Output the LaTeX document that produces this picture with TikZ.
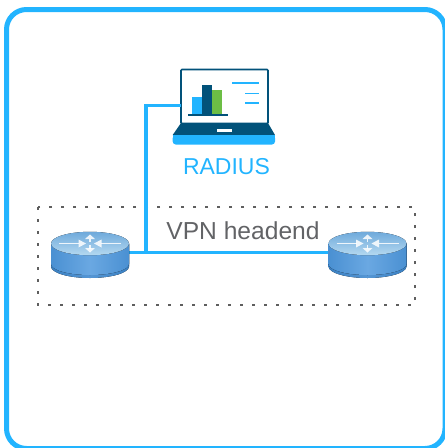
\documentclass[tikz,border=0pt]{standalone}
\usepackage{fontspec}
\setmainfont{Liberation Sans}
\definecolor{ciscoblue}{HTML}{22B4FF}
\definecolor{navy}{HTML}{02527A}
\definecolor{leaf}{HTML}{6CBE45}
\definecolor{labelgray}{HTML}{626366}
\definecolor{dotgray}{HTML}{5E5E5E}
\definecolor{rimA}{HTML}{3A80C2}
\definecolor{rimB}{HTML}{5596D4}
\definecolor{bodyA}{HTML}{4A90D2}
\definecolor{bodyB}{HTML}{6AA8E2}
\definecolor{topA}{HTML}{6FAADB}
\definecolor{topB}{HTML}{B4D8F0}
\tikzset{
  frameline/.style={draw=ciscoblue,line width=5pt,rounded corners=20pt},
  linkline/.style={draw=ciscoblue,line width=3.6pt},
  dotbox/.style={draw=dotgray,line width=1.8pt,dash pattern=on 3pt off 9pt},
  slot/.style={minimum width=78pt,minimum height=46pt,inner sep=0pt,outer sep=0pt},
  screenbox/.style={draw=navy,fill=white,line width=1.6pt,rounded corners=1pt,minimum width=87pt,minimum height=54pt,inner sep=0pt,outer sep=0pt},
  menuline/.style={draw=ciscoblue,line width=1.5pt},
  rarrow/.style={draw=white,line width=1.6pt,opacity=.85},
  rtip/.style={fill=white,opacity=.85}
}
\newcommand{\routerdraw}[2]{%
  \begin{scope}[shift={(#1,#2)}]
    \fill[left color=rimA,right color=rimA,middle color=rimB]
      (-39,0) -- (-39,23) arc[start angle=180,end angle=0,x radius=39,y radius=11.5] -- (39,0) -- cycle;
    \fill[left color=bodyA,right color=bodyA,middle color=bodyB]
      (-39,0) -- (-39,20.5) arc[start angle=180,end angle=0,x radius=39,y radius=11] -- (39,0) -- cycle;
    \fill[top color=topA,bottom color=topB] (0,0) ellipse[x radius=39,y radius=11.7];
    \draw[rarrow] (0,-1.5) -- (0,-5);
    \fill[rtip] (-5,-4.5) -- (0,-9) -- (5,-4.5) -- cycle;
    \draw[rarrow] (0,1.5) -- (0,5);
    \fill[rtip] (-5,4.5) -- (0,9) -- (5,4.5) -- cycle;
    \draw[rarrow,line width=1.2pt] (-31,0) -- (-11,0);
    \fill[rtip] (-11.5,-4) -- (-4,0) -- (-11.5,4) -- cycle;
    \draw[rarrow,line width=1.2pt] (31,0) -- (11,0);
    \fill[rtip] (11.5,-4) -- (4,0) -- (11.5,4) -- cycle;
  \end{scope}}
\begin{document}
\begin{tikzpicture}[x=1pt,y=-1pt]
  \useasboundingbox (0,0) rectangle (445,448);
  \clip (0,0) rectangle (445,448);
  \draw[frameline] (6.5,9.5) rectangle (445,448.5);
  \draw[dotbox] (38,207) rectangle (415,305);

  \node[slot] (routerL) at (90,255) {};
  \node[slot] (routerR) at (367.5,255) {};
  \node[screenbox] (laptop) at (224.5,96.5) {};
  \coordinate (tap) at (146,252.5);

  \draw[linkline] ([yshift=-9pt]laptop.west) -| (tap);
  \draw[linkline] (routerL.east |- tap) -- (routerR.west |- tap);

  \routerdraw{90}{243.5}
  \routerdraw{367.5}{243.5}

  % laptop base
  \fill[navy] (181,123) -- (268,123) -- (275,135) -- (172.7,135) -- cycle;
  \fill[ciscoblue,rounded corners=3pt] (172.7,135) -- (275,135) -- (275,144.5) -- (172.7,144.5) -- cycle;
  \fill[ciscoblue] (172.7,135) rectangle (275,138);
  \fill[white] (216.5,129) rectangle (232,131.5);
  % screen content
  \fill[ciscoblue] (192.3,96.7) rectangle (202,114);
  \fill[navy] (202,85) rectangle (212,114);
  \fill[leaf] (212,90) rectangle (222,114);
  \fill[navy] (187.5,114) rectangle (228,116);
  \draw[menuline] (232,83) -- (259,83);
  \draw[menuline] (245,93.5) -- (259,93.5);
  \draw[menuline] (245,103) -- (259,103);

  \node[font=\fontsize{23}{27}\selectfont,inner sep=0pt,text=ciscoblue] (radius) at (226.5,167) {RADIUS};
  \node[font=\fontsize{24.6}{29}\selectfont,inner sep=0pt,text=labelgray] (vpn) at (243,230.5) {VPN headend};
\end{tikzpicture}
\end{document}
